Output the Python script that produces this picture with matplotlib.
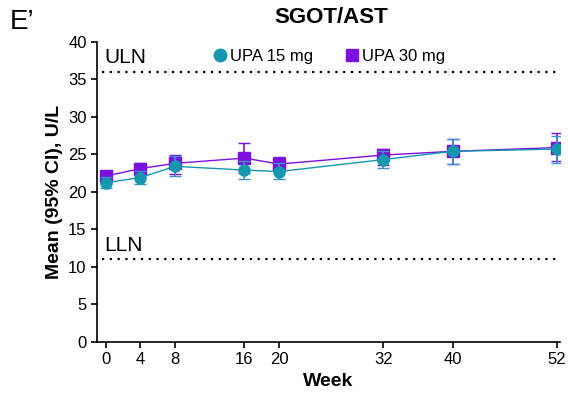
import matplotlib
matplotlib.use("Agg")
import matplotlib.pyplot as plt
from matplotlib.lines import Line2D

plt.rcParams['font.family'] = ['Liberation Sans', 'DejaVu Sans']

# данные
weeks = [0, 4, 8, 16, 20, 32, 40, 52]
upa15_mean = [21.2, 21.9, 23.4, 22.9, 22.7, 24.3, 25.4, 25.7]
upa15_low = [20.5, 21.1, 22.1, 21.7, 21.7, 23.2, 23.7, 23.9]
upa15_high = [22.0, 22.8, 24.8, 24.1, 23.8, 25.5, 27.1, 27.4]
upa30_mean = [22.1, 23.1, 23.8, 24.5, 23.7, 24.9, 25.4, 25.9]
upa30_low = [21.4, 22.3, 22.4, 22.5, 22.8, 23.6, 23.7, 24.1]
upa30_high = [22.8, 23.9, 24.9, 26.5, 24.6, 25.7, 27.0, 27.8]
uln = 36
lln = 11

teal = '#1598AE'
teal_err = '#3E92CC'
purple = '#7A0FE0'

fig = plt.figure(figsize=(5.68, 3.98), dpi=100)
ax = fig.add_axes([0.171, 0.141, 0.815, 0.754])

err15 = [[m - l for m, l in zip(upa15_mean, upa15_low)],
         [h - m for m, h in zip(upa15_mean, upa15_high)]]
err30 = [[m - l for m, l in zip(upa30_mean, upa30_low)],
         [h - m for m, h in zip(upa30_mean, upa30_high)]]

ax.errorbar(weeks, upa30_mean, yerr=err30, color=purple, ecolor=purple,
            marker='s', markersize=8, linewidth=1.0, capsize=4,
            elinewidth=1.2, zorder=3)
ax.errorbar(weeks, upa15_mean, yerr=err15, color=teal, ecolor=teal_err,
            marker='o', markersize=8, linewidth=1.0, capsize=4,
            elinewidth=1.2, zorder=4)

ax.axhline(uln, color='black', linestyle=(0, (1, 2.5)), linewidth=1.6, xmin=0.01)
ax.axhline(lln, color='black', linestyle=(0, (1, 2.5)), linewidth=1.6, xmin=0.01)
ax.text(-0.2, uln + 0.6, 'ULN', fontsize=15, va='bottom', ha='left')
ax.text(-0.2, lln + 0.6, 'LLN', fontsize=15, va='bottom', ha='left')

ax.set_xlim(-1, 52.4)
ax.set_ylim(0, 40)
ax.set_xticks(weeks)
ax.set_yticks(range(0, 41, 5))
ax.tick_params(labelsize=12, length=4, width=1.2)
for s in ['top', 'right']:
    ax.spines[s].set_visible(False)
for s in ['left', 'bottom']:
    ax.spines[s].set_linewidth(1.2)

ax.set_xlabel('Week', fontsize=14, fontweight='bold')
ax.set_ylabel('Mean (95% CI), U/L', fontsize=14, fontweight='bold')

# легенда только с маркерами
handles = [Line2D([], [], color=teal, marker='o', markersize=9, linestyle='none'),
           Line2D([], [], color=purple, marker='s', markersize=9, linestyle='none')]
ax.legend(handles, ['UPA 15 mg', 'UPA 30 mg'], loc='upper center',
          bbox_to_anchor=(0.5, 1.025), ncol=2, frameon=False,
          fontsize=12, handletextpad=0.1, columnspacing=1.8,
          handlelength=1.0)

fig.text(0.583, 0.955, 'SGOT/AST', fontsize=16, fontweight='bold',
         ha='center', va='center')
fig.text(0.018, 0.945, 'E\u2019', fontsize=20, ha='left', va='center')

fig.savefig('out.png', dpi=100)
